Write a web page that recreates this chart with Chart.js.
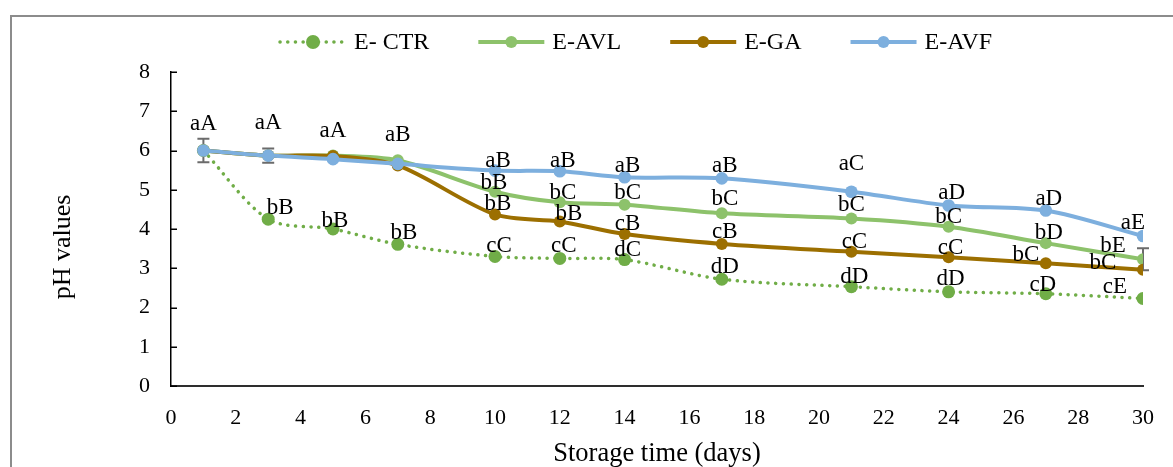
<!DOCTYPE html>
<html>
<head>
<meta charset="utf-8">
<title>pH values during storage</title>
<script src="https://cdn.jsdelivr.net/npm/chart.js@4/dist/chart.umd.min.js"></script>
<style>
  html, body { margin: 0; padding: 0; background: #fff; }
  #wrap { position: relative; width: 1173px; height: 467px; overflow: hidden; }
  #frame { position: absolute; left: 10px; top: 15px; width: 1200px; height: 500px;
           border-left: 2px solid #8c8c8c; border-top: 2px solid #8c8c8c; }
  canvas { position: absolute; left: 0; top: 0; }
</style>
</head>
<body>
<div id="wrap">
  <div id="frame"></div>
  <canvas id="chart" width="1173" height="467"></canvas>
</div>
<script>
// Storage days and pH readings per treatment
const days = [1, 3, 5, 7, 10, 12, 14, 17, 21, 24, 27, 30];

const phCTR = [6.00, 4.25, 4.00, 3.61, 3.30, 3.25, 3.22, 2.72, 2.53, 2.40, 2.35, 2.23];
const phAVL = [6.00, 5.87, 5.87, 5.75, 4.95, 4.68, 4.62, 4.40, 4.27, 4.06, 3.64, 3.23];
const phGA  = [6.00, 5.87, 5.86, 5.62, 4.37, 4.19, 3.87, 3.62, 3.42, 3.28, 3.13, 2.96];
const phAVF = [6.00, 5.87, 5.78, 5.66, 5.49, 5.47, 5.32, 5.29, 4.95, 4.60, 4.47, 3.82];

// Standard deviations (only where drawn)
const sdAVL = [0, 0, 0, 0, 0, 0, 0, 0, 0, 0, 0, 0.28];
const sdAVF = [0.30, 0.18, 0, 0, 0, 0, 0, 0, 0, 0, 0, 0];

// Significance letters
const letCTR = [null, 'bB', 'bB', 'bB', 'cC', 'cC', 'dC', 'dD', 'dD', 'dD', 'cD', 'cE'];
const letAVL = [null, null, null, null, 'bB', 'bC', 'bC', 'bC', 'bC', 'bC', 'bD', 'bE'];
const letGA  = [null, null, null, null, 'bB', 'bB', 'cB', 'cB', 'cC', 'cC', 'bC', 'bC'];
const letAVF = ['aA', 'aA', 'aA', 'aB', 'aB', 'aB', 'aB', 'aB', 'aC', 'aD', 'aD', 'aE'];

const seriesNames = ['E- CTR', 'E-AVL', 'E-GA', 'E-AVF'];
const yTicks = [0, 1, 2, 3, 4, 5, 6, 7, 8];
const xTicks = [0, 2, 4, 6, 8, 10, 12, 14, 16, 18, 20, 22, 24, 26, 28, 30];
const xTitle = 'Storage time (days)';
const yTitle = 'pH values';

// Letter placement relative to each marker, in pixels [dx, dy]
const letterShift = {
  ctr: [[0,0],[12,-11],[2,-8],[6,-11],[4,-11],[4,-12],[3,-10],[3,-12],[3,-10],[2,-13],[-3,-9],[-28,-12]],
  avl: [[0,0],[0,0],[0,0],[0,0],[-1,-9],[3,-9],[3,-12],[3,-14],[0,-13],[0,-10],[3,-10],[-30,-13]],
  ga:  [[0,0],[0,0],[0,0],[0,0],[3,-11],[9,-8],[3,-10],[3,-12],[3,-10],[2,-9],[-20,-8],[-40,-7]],
  avf: [[0,-27],[0,-33],[0,-28],[0,-29],[3,-10],[3,-10],[3,-11],[3,-12],[0,-28],[3,-12],[3,-12],[-10,-13]]
};

const SERIF = "'Liberation Serif', 'Times New Roman', serif";
const toXY = (ys) => days.map((d, i) => ({ x: d, y: ys[i] }));

const datasets = [
  { label: seriesNames[0], data: toXY(phCTR), borderColor: '#70AD47', backgroundColor: '#70AD47',
    borderWidth: 3.5, borderDash: [0.1, 7.6], borderCapStyle: 'round', pointRadius: 6.5,
    letters: letCTR, shift: letterShift.ctr, order: 3 },
  { label: seriesNames[1], data: toXY(phAVL), borderColor: '#8DC26B', backgroundColor: '#8DC26B',
    borderWidth: 4, pointRadius: 6, letters: letAVL, shift: letterShift.avl, sd: sdAVL, order: 2 },
  { label: seriesNames[2], data: toXY(phGA), borderColor: '#9C6F00', backgroundColor: '#9C6F00',
    borderWidth: 4, pointRadius: 6, letters: letGA, shift: letterShift.ga, order: 1 },
  { label: seriesNames[3], data: toXY(phAVF), borderColor: '#7DAFDE', backgroundColor: '#7DAFDE',
    borderWidth: 4, pointRadius: 6.3, letters: letAVF, shift: letterShift.avf, sd: sdAVF, order: 0 }
];
datasets.forEach(ds => {
  ds.tension = 0.3;
  ds.pointBorderWidth = 0;
  ds.pointHoverRadius = ds.pointRadius;
  ds.fill = false;
});

// Short inward tick marks on the value axis
const innerTicks = {
  id: 'innerTicks',
  afterDraw(chart) {
    const { ctx, scales: { y }, chartArea } = chart;
    ctx.save();
    ctx.strokeStyle = '#000';
    ctx.lineWidth = 1.5;
    ctx.beginPath();
    y.ticks.forEach(t => {
      const py = Math.round(y.getPixelForValue(t.value)) + 0.25;
      ctx.moveTo(chartArea.left, py);
      ctx.lineTo(chartArea.left + 6, py);
    });
    ctx.stroke();
    ctx.restore();
  }
};

// Rotated value-axis title
const valueTitle = {
  id: 'valueTitle',
  afterDraw(chart) {
    const { ctx } = chart;
    ctx.save();
    ctx.translate(63, 247);
    ctx.rotate(-Math.PI / 2);
    ctx.font = `26px ${SERIF}`;
    ctx.fillStyle = '#000';
    ctx.textAlign = 'center';
    ctx.textBaseline = 'middle';
    ctx.fillText(yTitle, 0, 0);
    ctx.restore();
  }
};

// Gray error bars drawn beneath the lines
const errorBars = {
  id: 'errorBars',
  beforeDatasetsDraw(chart) {
    const { ctx, scales: { y } } = chart;
    ctx.save();
    ctx.strokeStyle = '#6b6b6b';
    ctx.lineWidth = 2;
    chart.data.datasets.forEach((ds, di) => {
      if (!ds.sd) return;
      const meta = chart.getDatasetMeta(di);
      ds.sd.forEach((s, i) => {
        if (!s) return;
        const pt = meta.data[i];
        const v = ds.data[i].y;
        const yTop = y.getPixelForValue(v + s);
        const yBot = y.getPixelForValue(v - s);
        ctx.beginPath();
        ctx.moveTo(pt.x, yTop); ctx.lineTo(pt.x, yBot);
        ctx.moveTo(pt.x - 6, yTop); ctx.lineTo(pt.x + 6, yTop);
        ctx.moveTo(pt.x - 6, yBot); ctx.lineTo(pt.x + 6, yBot);
        ctx.stroke();
      });
    });
    ctx.restore();
  }
};

// Significance letters next to the markers
const letters = {
  id: 'letters',
  afterDatasetsDraw(chart) {
    const { ctx } = chart;
    ctx.save();
    ctx.font = `23px ${SERIF}`;
    ctx.fillStyle = '#000';
    ctx.textAlign = 'center';
    ctx.textBaseline = 'middle';
    chart.data.datasets.forEach((ds, di) => {
      const meta = chart.getDatasetMeta(di);
      ds.letters.forEach((t, i) => {
        if (!t) return;
        const pt = meta.data[i];
        const [dx, dy] = ds.shift[i];
        ctx.fillText(t, pt.x + dx, pt.y + dy);
      });
    });
    ctx.restore();
  }
};

// Legend row: line sample with marker, then the series name
const lineLegend = {
  id: 'lineLegend',
  afterDraw(chart) {
    const { ctx } = chart;
    const cy = 42, lineLen = 68, gapText = 8, gapItem = 47;
    let x = 278;
    ctx.save();
    ctx.font = `24px ${SERIF}`;
    ctx.textBaseline = 'middle';
    ctx.textAlign = 'left';
    chart.data.datasets.forEach(ds => {
      ctx.save();
      ctx.strokeStyle = ds.borderColor;
      ctx.lineWidth = ds.borderWidth;
      ctx.lineCap = ds.borderDash ? 'round' : 'butt';
      ctx.setLineDash(ds.borderDash || []);
      ctx.beginPath();
      ctx.moveTo(x + 2, cy); ctx.lineTo(x + lineLen, cy);
      ctx.stroke();
      ctx.setLineDash([]);
      ctx.fillStyle = ds.backgroundColor;
      ctx.beginPath();
      ctx.arc(x + lineLen / 2 + 1, cy, ds.borderDash ? 7 : 6, 0, Math.PI * 2);
      ctx.fill();
      ctx.restore();
      ctx.fillStyle = '#000';
      const tx = x + lineLen + gapText;
      ctx.fillText(ds.label, tx, cy + 1);
      x = tx + ctx.measureText(ds.label).width + gapItem;
    });
    ctx.restore();
  }
};

new Chart(document.getElementById('chart'), {
  type: 'line',
  data: { datasets },
  plugins: [errorBars, letters, innerTicks, valueTitle, lineLegend],
  options: {
    responsive: false,
    animation: false,
    events: [],
    layout: { padding: { left: 0, top: 72, right: 24, bottom: 0 } },
    plugins: { legend: { display: false }, tooltip: { enabled: false } },
    scales: {
      x: {
        type: 'linear', min: 0, max: 30,
        afterBuildTicks(scale) { scale.ticks = xTicks.map(v => ({ value: v })); },
        afterFit(scale) { scale.height = 81; },
        grid: { display: true, drawOnChartArea: false, drawTicks: false },
        border: { display: true, color: '#2e2e2e', width: 2 },
        ticks: { color: '#000', font: { family: SERIF, size: 22 }, padding: 19, maxRotation: 0 },
        title: { display: true, text: xTitle, color: '#000',
                 font: { family: SERIF, size: 26.5, lineHeight: 1 }, padding: { top: 0, bottom: 0 } }
      },
      y: {
        min: 0, max: 8,
        afterBuildTicks(scale) { scale.ticks = yTicks.map(v => ({ value: v })); },
        afterFit(scale) { scale.width = 171; },
        grid: { display: true, drawOnChartArea: false, drawTicks: false },
        border: { display: true, color: '#000', width: 1.5 },
        ticks: { color: '#000', font: { family: SERIF, size: 22 }, padding: 21 },
        title: { display: false }
      }
    }
  }
});
</script>
</body>
</html>
